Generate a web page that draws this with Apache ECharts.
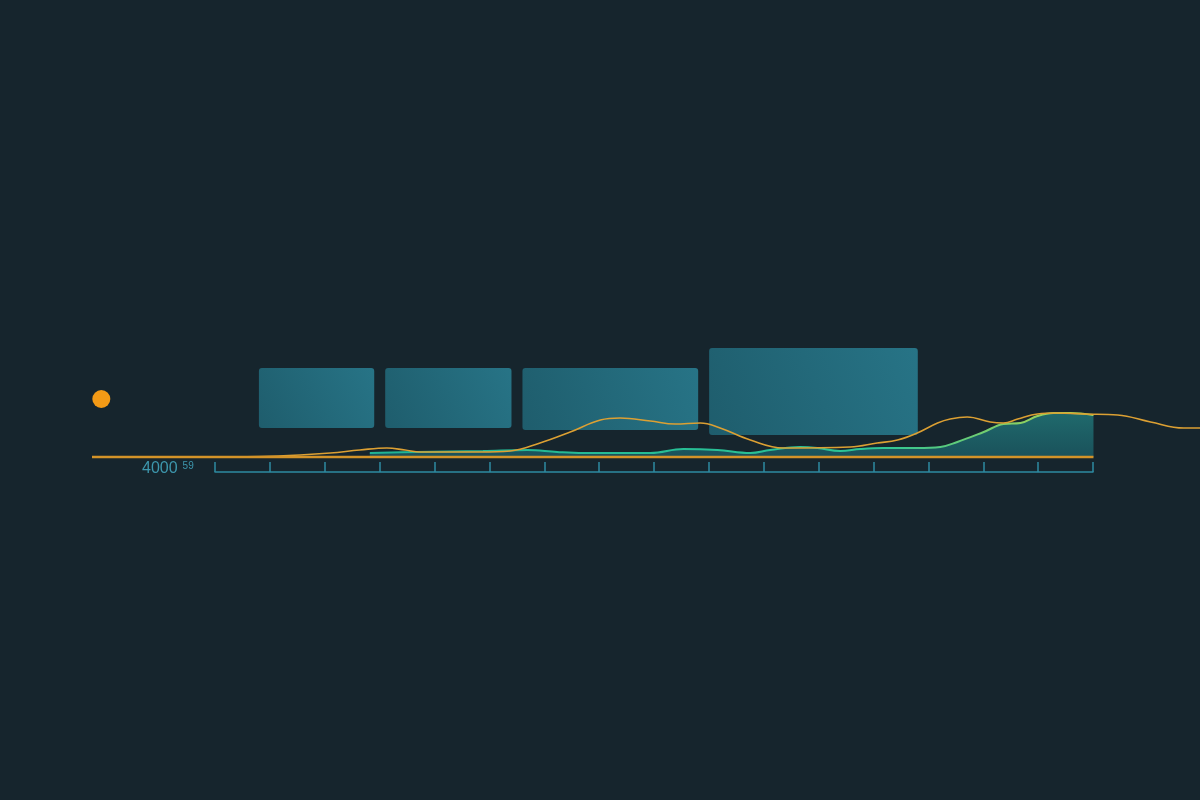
<!DOCTYPE html>
<html>
<head>
<meta charset="utf-8">
<script src="https://cdn.jsdelivr.net/npm/echarts@6/dist/echarts.min.js"></script>
<style>
html,body{margin:0;padding:0;background:#16252d;}
#c{width:1200px;height:800px;}
</style>
</head>
<body>
<div id="c"></div>
<script>
// ---- data ----
var blockStart = [0.8, 3.1, 5.6, 9.0];
var blockEnd   = [2.9, 5.4, 8.8, 12.8];
var blockLow   = [29, 29, 27, 22];
var blockHigh  = [89, 89, 89, 109];

var orangeX = [-2.24,-0.27,0.82,1.55,2.10,2.64,3.13,3.46,3.74,4.83,5.38,5.92,6.47,7.02,7.38,7.93,8.38,8.84,9.20,9.75,10.35,11.57,12.06,12.43,12.79,13.16,13.39,13.70,14.12,14.36,14.62,14.98,15.34,15.82,16.44,17.04,17.64,17.94];
var orangeY = [0,0,0.5,2,4,7,9,7,5,5,6,14,25,37,39,36,33,34,29,17,9,10,14,17,24,34,38,40,35,34,38,43,44,43,42,35,29,29];

var greenX = [2.82,3.68,4.88,5.69,6.23,6.71,7.93,8.53,9.15,9.75,10.11,10.66,10.97,11.39,11.75,12.17,12.79,13.21,13.52,14.0,14.36,14.67,14.98,15.27,15.58,16];
var greenY = [4,5,6,7,5,4,4,8,7,4,7,10,9,6,8,9,9,10,15,25,33,34,41,44,44,42];

var baseX = [-2.24, 16];
var baseY = [0, 0];

var markerX = [-2.07];
var markerY = [58];

var labelMain = '4000';
var labelSup = '59';

function zip(a, b){ return a.map(function(v,i){ return [v, b[i]]; }); }

var blocks = blockStart.map(function(s,i){ return [s, blockEnd[i], blockLow[i], blockHigh[i]]; });

var chart = echarts.init(document.getElementById('c'));
chart.setOption({
  backgroundColor: '#16252d',
  animation: false,
  title: {
    text: labelMain + '{s|' + labelSup + '}',
    left: 142, top: 461, padding: 0,
    textStyle: {
      color: '#3d97ad', fontSize: 16, fontWeight: 'normal', fontFamily: 'Liberation Sans',
      rich: { s: { fontSize: 10, color: '#3d97ad', verticalAlign: 'top', padding: [0,0,6,5] } }
    }
  },
  grid: [
    { left: 215, right: 107, top: 337, bottom: 328 },
    { left: 92, right: 0, top: 337, bottom: 328 }
  ],
  xAxis: [
    { type: 'value', gridIndex: 0, min: 0, max: 16, interval: 1, position: 'bottom',
      axisLine: { show: true, onZero: false, lineStyle: { color: '#2e8aa1', width: 1.5 } },
      axisTick: { show: true, inside: true, length: 10, lineStyle: { color: '#2e8aa1', width: 1.5 } },
      axisLabel: { show: false }, splitLine: { show: false } },
    { type: 'value', gridIndex: 1, min: -2.24, max: 17.94, show: false, splitLine: { show: false } }
  ],
  yAxis: [
    { type: 'value', gridIndex: 0, min: -15, max: 120, show: false, splitLine: { show: false } },
    { type: 'value', gridIndex: 1, min: -15, max: 120, show: false, splitLine: { show: false } }
  ],
  series: [
    {
      name: 'blocks', type: 'custom', xAxisIndex: 1, yAxisIndex: 1,
      data: blocks,
      renderItem: function(params, api){
        var p1 = api.coord([api.value(0), api.value(3)]);
        var p2 = api.coord([api.value(1), api.value(2)]);
        return {
          type: 'rect',
          shape: { x: p1[0], y: p1[1], width: p2[0]-p1[0], height: p2[1]-p1[1], r: 3 },
          style: {
            fill: new echarts.graphic.LinearGradient(0, 1, 1, 0, [
              { offset: 0, color: '#1f6070' },
              { offset: 1, color: '#28788b' }
            ]),
            opacity: 0.95
          }
        };
      },
      z: 1
    },
    {
      name: 'green', type: 'line', xAxisIndex: 1, yAxisIndex: 1,
      data: zip(greenX, greenY), smooth: 0.4, symbol: 'none',
      lineStyle: { width: 2, color: new echarts.graphic.LinearGradient(0,0,1,0,[
        { offset: 0, color: '#1fb394' }, { offset: 0.7, color: '#2cc596' }, { offset: 1, color: '#b9d64a' }
      ]) },
      areaStyle: { color: new echarts.graphic.LinearGradient(0,0,0,1,[
        { offset: 0, color: 'rgba(36,140,140,0.95)' }, { offset: 1, color: 'rgba(28,104,114,0.95)' }
      ]) },
      z: 3
    },
    {
      name: 'orange', type: 'line', xAxisIndex: 1, yAxisIndex: 1,
      data: zip(orangeX, orangeY), smooth: 0.4, symbol: 'none',
      lineStyle: { width: 1.6, color: '#dca033' },
      z: 4
    },
    {
      name: 'base', type: 'line', xAxisIndex: 1, yAxisIndex: 1,
      data: zip(baseX, baseY), symbol: 'none',
      lineStyle: { width: 2.5, color: '#d39328' },
      z: 5
    },
    {
      name: 'marker', type: 'scatter', xAxisIndex: 1, yAxisIndex: 1,
      data: zip(markerX, markerY), symbolSize: 18,
      itemStyle: { color: '#f39a16', opacity: 1 },
      z: 6
    }
  ]
});
</script>
</body>
</html>
